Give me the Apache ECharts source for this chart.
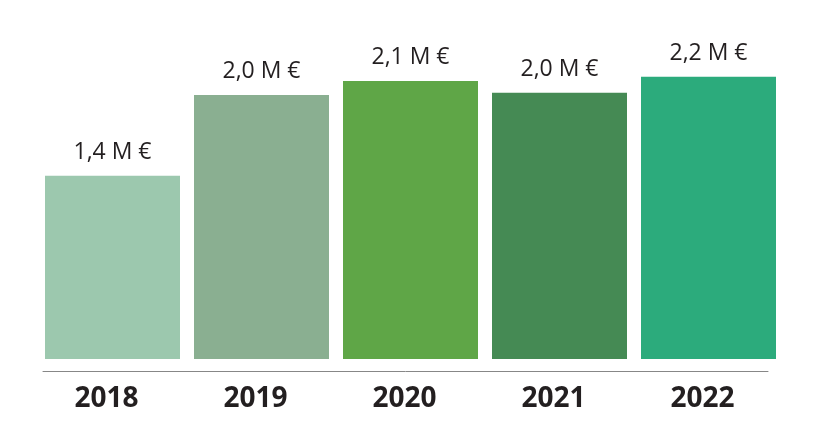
<!DOCTYPE html>
<html>
<head>
<meta charset="utf-8">
<script src="https://cdn.jsdelivr.net/npm/echarts@6/dist/echarts.min.js"></script>
<style>html,body{margin:0;padding:0;background:#fff}#c{width:814px;height:446px}</style>
</head>
<body>
<div id="c"></div>
<script>
var categories = ['2018', '2019', '2020', '2021', '2022'];
var values = [1.397, 2.012, 2.119, 2.03, 2.152];
var barColors = ['#9cc8ae', '#8aaf91', '#5fa647', '#458a54', '#2cab7c'];

var chart = echarts.init(document.getElementById('c'), null, {renderer: 'canvas'});
chart.setOption({
  animation: false,
  backgroundColor: '#ffffff',
  grid: [
    {left: 38, right: 31, top: 31, bottom: 87},
    {left: 43, right: 46, top: 371, height: 0}
  ],
  xAxis: [
    {
      type: 'category', gridIndex: 0, data: categories,
      axisLine: {show: false}, axisTick: {show: false},
      axisLabel: {
        margin: 26, fontFamily: 'Open Sans', fontWeight: 700, fontSize: 28,
        color: '#231f20', padding: [0, 12, 0, 0]
      }
    },
    {
      type: 'value', gridIndex: 1, min: 0, max: 1,
      axisLine: {show: true, lineStyle: {color: '#878787', width: 1}},
      axisTick: {show: false}, axisLabel: {show: false}, splitLine: {show: false}
    }
  ],
  yAxis: [
    {type: 'value', gridIndex: 0, min: 0, max: 2.5, show: false, splitLine: {show: false}},
    {type: 'value', gridIndex: 1, show: false}
  ],
  series: [{
    type: 'bar', xAxisIndex: 0, yAxisIndex: 0,
    barWidth: 135,
    data: values.map(function (v, i) {
      return {value: v, itemStyle: {color: barColors[i]}};
    }),
    label: {
      show: true, position: 'top', distance: 12,
      fontFamily: 'Open Sans', fontSize: 23, color: '#231f20',
      formatter: function (p) {
        return p.value.toFixed(1).replace('.', ',') + ' M €';
      }
    }
  }]
});
</script>
</body>
</html>
